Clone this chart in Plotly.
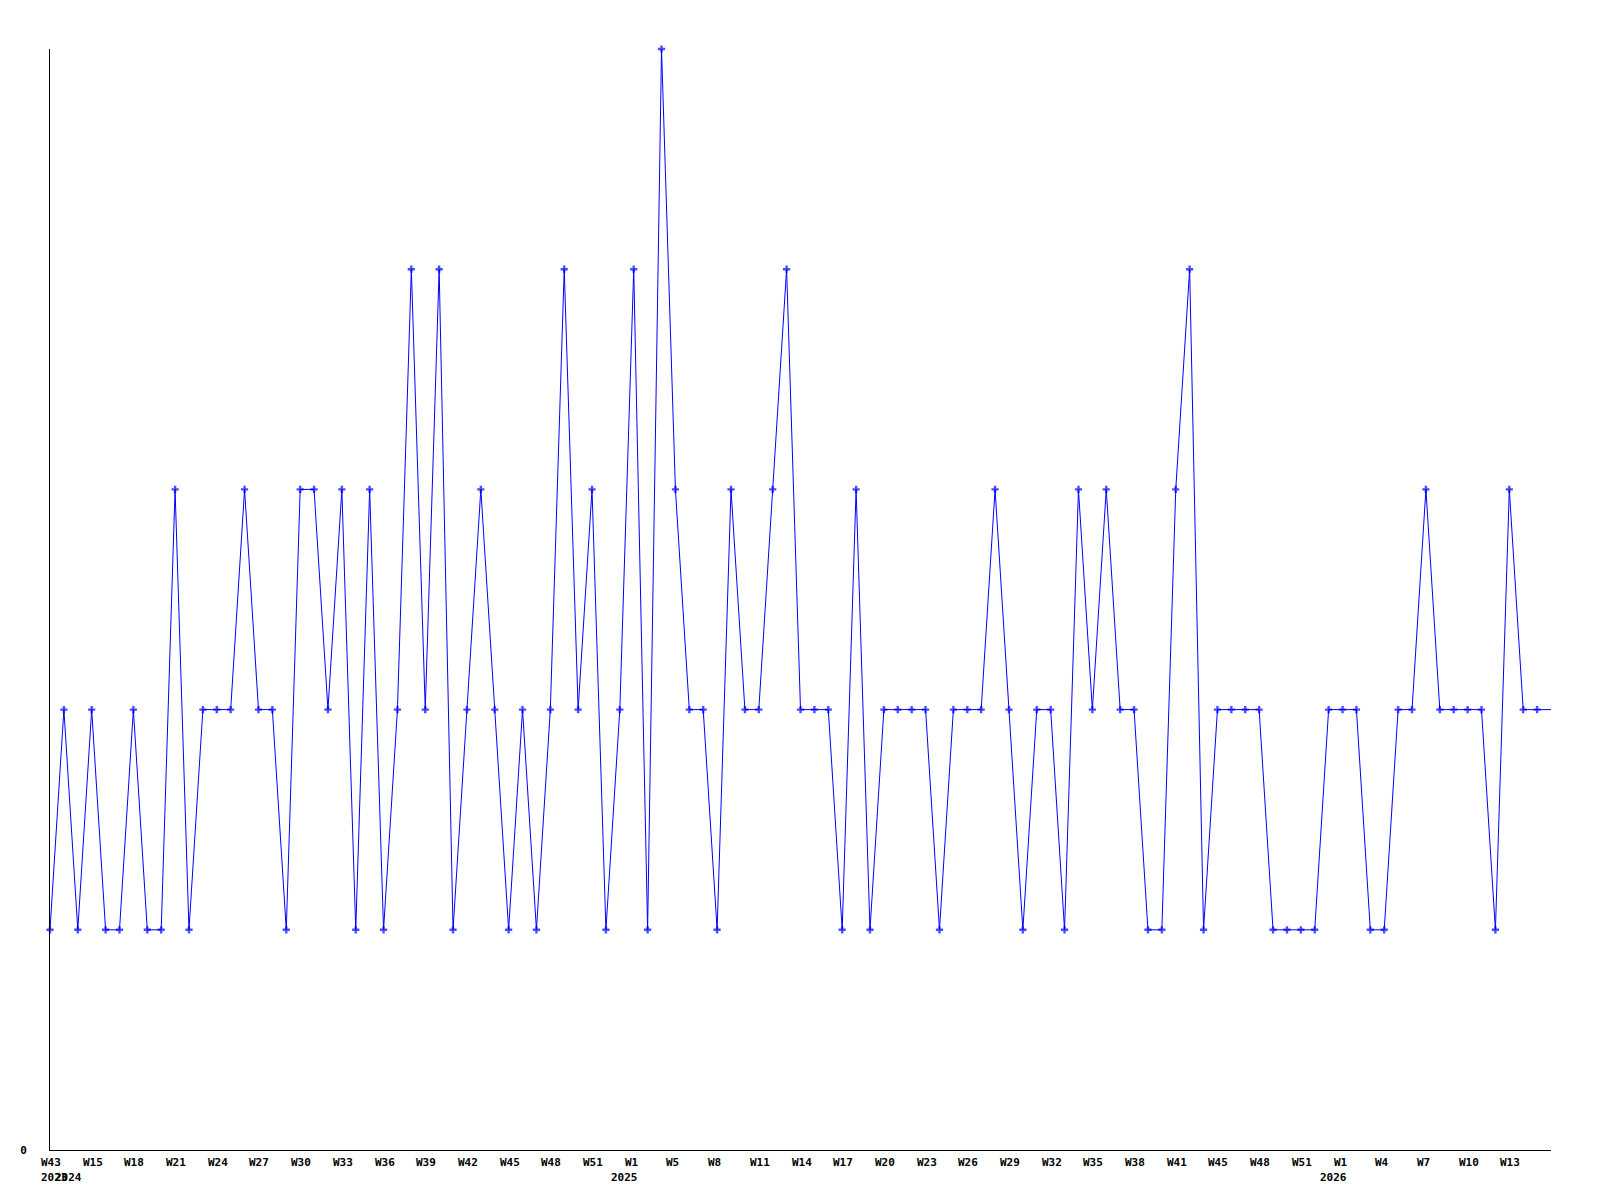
import plotly.graph_objects as go

# Weekly counts (one value per period, in order)
values = [1, 2, 1, 2, 1, 1, 2, 1, 1, 3,
          1, 2, 2, 2, 3, 2, 2, 1, 3, 3,
          2, 3, 1, 3, 1, 2, 4, 2, 4, 1,
          2, 3, 2, 1, 2, 1, 2, 4, 2, 3,
          1, 2, 4, 1, 5, 3, 2, 2, 1, 3,
          2, 2, 3, 4, 2, 2, 2, 1, 3, 1,
          2, 2, 2, 2, 1, 2, 2, 2, 3, 2,
          1, 2, 2, 1, 3, 2, 3, 2, 2, 1,
          1, 3, 4, 1, 2, 2, 2, 2, 1, 1,
          1, 1, 2, 2, 2, 1, 1, 2, 2, 3,
          2, 2, 2, 2, 1, 3, 2, 2, 2]

# Week tick labels and the period index they sit on
week_tick_idx = [0, 3, 6, 9, 12, 15, 18, 21, 24, 27, 30, 33, 36, 39,
                 42, 45, 48, 51, 54, 57, 60, 63, 66, 69, 72, 75, 78, 81,
                 84, 87, 90, 93, 96, 99, 102, 105]
week_tick_text = ["W43", "W15", "W18", "W21", "W24", "W27", "W30", "W33", "W36", "W39",
                  "W42", "W45", "W48", "W51", "W1", "W5", "W8", "W11", "W14", "W17",
                  "W20", "W23", "W26", "W29", "W32", "W35", "W38", "W41", "W45", "W48",
                  "W51", "W1", "W4", "W7", "W10", "W13"]

# Year labels at the first period of each year
year_tick_idx = [0, 1, 41, 92]
year_tick_text = ["2023", "2024", "2025", "2026"]

y_tick_vals = [0]
y_tick_text = ["0"]

x = list(range(len(values)))
marker_sizes = [6] * (len(values) - 1) + [0]

fig = go.Figure()
fig.add_trace(go.Scatter(
    x=x, y=values, mode="lines+markers",
    line=dict(color="#0000ff", width=1),
    marker=dict(symbol="cross", size=marker_sizes, color="#0000ff", line=dict(width=0)),
    cliponaxis=False, hoverinfo="skip", showlegend=False,
))

font = dict(family="DejaVu Sans Mono", size=11, color="#000000")
annotations = []
for i, t in zip(week_tick_idx, week_tick_text):
    annotations.append(dict(x=i, y=0, xref="x", yref="paper", text="<b>%s</b>" % t,
                            showarrow=False, xanchor="left", yanchor="middle",
                            xshift=-11, yshift=-12, font=font))
for i, t in zip(year_tick_idx, year_tick_text):
    annotations.append(dict(x=i, y=0, xref="x", yref="paper", text="<b>%s</b>" % t,
                            showarrow=False, xanchor="left", yanchor="middle",
                            xshift=-11, yshift=-27, font=font))

fig.update_layout(
    width=1600, height=1200,
    margin=dict(l=42, r=57, t=41, b=58, autoexpand=False),
    paper_bgcolor="#ffffff", plot_bgcolor="#ffffff",
    font=font,
    annotations=annotations,
    xaxis=dict(range=[0, len(values) - 1], showgrid=False, zeroline=False,
               showline=True, linecolor="#000000", linewidth=1,
               showticklabels=False, ticks="", automargin=False),
    yaxis=dict(range=[0, 5], showgrid=False, zeroline=False,
               showline=True, linecolor="#000000", linewidth=1,
               tickvals=y_tick_vals, ticktext=["<b>%s</b>" % t for t in y_tick_text],
               ticks="", ticklabelstandoff=20, automargin=False,
               tickfont=font),
)

fig.write_html("out.html")
